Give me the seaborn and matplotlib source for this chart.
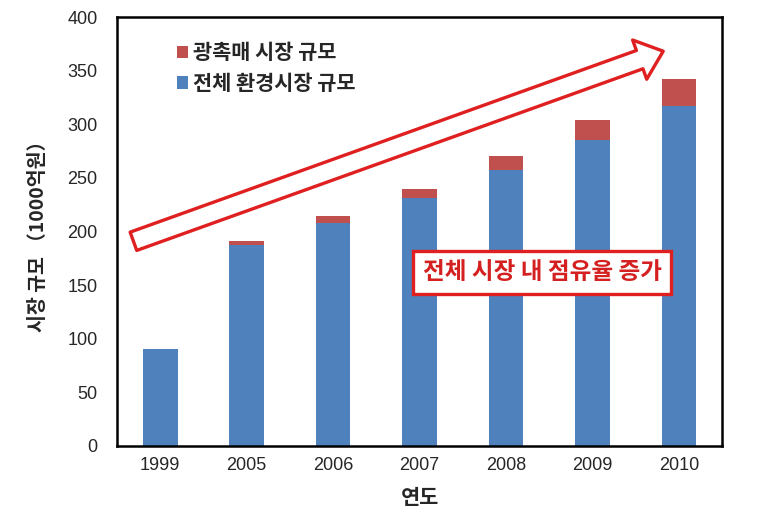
import matplotlib
matplotlib.use("Agg")
import matplotlib.pyplot as plt
import seaborn as sns
import pandas as pd
from matplotlib.patches import Patch, FancyArrowPatch

years = ["1999", "2005", "2006", "2007", "2008", "2009", "2010"]
env_market = [90, 187, 208, 231, 257, 285, 317]
photocat_market = [0, 4, 6, 9, 13, 19, 25]
total_market = [e + p for e, p in zip(env_market, photocat_market)]
yticks = [0, 50, 100, 150, 200, 250, 300, 350, 400]

sns.set_style("white")
plt.rcParams['font.family'] = ['Noto Sans CJK KR', 'DejaVu Sans']

blue = "#4f81bd"
red = "#c0504d"

df = pd.DataFrame({"year": years, "env": env_market, "total": total_market})

fig = plt.figure(figsize=(7.57, 5.30), dpi=100)
ax = fig.add_axes([117/757, 1-446/530, (722-117)/757, (446-17)/530])

sns.barplot(data=df, x="year", y="total", color=red, width=0.4, saturation=1,
            linewidth=0, edgecolor='none', ax=ax)
sns.barplot(data=df, x="year", y="env", color=blue, width=0.4, saturation=1,
            linewidth=0, edgecolor='none', ax=ax)

ax.set_xlim(-0.5, 6.5)
ax.set_ylim(0, 400)
ax.set_yticks(yticks)
ax.set_yticklabels([str(v) for v in yticks])

num_font = ['Liberation Sans Narrow', 'Liberation Sans', 'DejaVu Sans']
for lab in ax.get_yticklabels() + ax.get_xticklabels():
    lab.set_family(num_font)
    lab.set_fontsize(13)
ax.tick_params(axis='y', length=0, pad=14)
ax.tick_params(axis='x', length=0, pad=8)

ax.set_xlabel("연도", fontsize=15, fontweight='bold', labelpad=9)
ax.set_ylabel("시장 규모 （1000억원）", fontsize=14, fontweight='bold', labelpad=14)

for s in ax.spines.values():
    s.set_visible(True)
    s.set_color('black')
    s.set_linewidth(1.8)

handles = [Patch(facecolor=red, edgecolor='none', label="광촉매 시장 규모"),
           Patch(facecolor=blue, edgecolor='none', label="전체 환경시장 규모")]
leg = ax.legend(handles=handles, loc='upper left', bbox_to_anchor=(0.085, 0.96),
                frameon=False, fontsize=15, handlelength=0.55, handleheight=0.55,
                handletextpad=0.25, labelspacing=0.45, borderaxespad=0)
for t in leg.get_texts():
    t.set_fontweight('bold')

arrow = FancyArrowPatch((-0.34, 190), (5.85, 369),
                        arrowstyle="simple,head_width=30,head_length=18,tail_width=14",
                        mutation_scale=1, facecolor='white', edgecolor='#e02020',
                        linewidth=2.4, zorder=5)
ax.add_patch(arrow)

ax.text(4.42, 162, "전체 시장 내 점유율 증가", color='#d42020', fontsize=17,
        fontweight='bold', ha='center', va='center', zorder=6,
        bbox=dict(boxstyle='square,pad=0.4', facecolor='white', edgecolor='#e02020', linewidth=2.4))

fig.savefig("out.png", dpi=100)
